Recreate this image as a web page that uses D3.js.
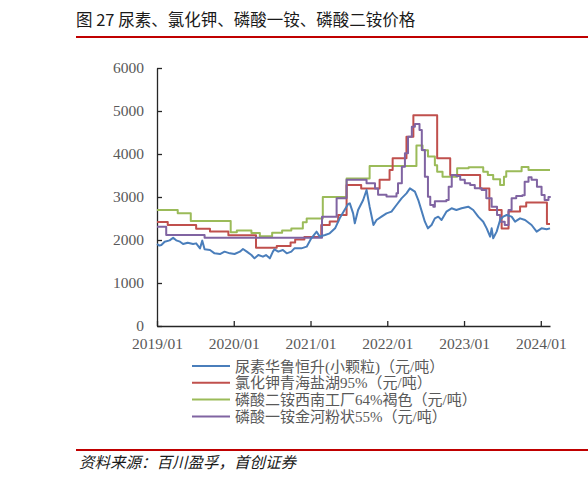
<!DOCTYPE html>
<html>
<head>
<meta charset="utf-8">
<script src="https://cdn.jsdelivr.net/npm/d3@7"></script>
<style>
  body { margin: 0; background: #fff; }
  svg text { font-family: "Liberation Serif", "Noto Sans CJK SC", serif; }
  .cjk { font-family: "Noto Sans CJK SC", sans-serif; }
  .axis path, .axis line { stroke: #262626; stroke-width: 1.3; }
  .axis text { fill: #595959; font-size: 15.5px; }
</style>
</head>
<body>
<div id="chart"></div>
<script>
// Years are decimal (2019.5 = mid 2019), values in 元/吨.
var yTicks = [0, 1000, 2000, 3000, 4000, 5000, 6000];
var xTicks = [2019, 2020, 2021, 2022, 2023, 2024];

var seriesNames = [
    '尿素华鲁恒升(小颗粒)（元/吨）',
    '氯化钾青海盐湖95%（元/吨）',
    '磷酸二铵西南工厂64%褐色（元/吨）',
    '磷酸一铵金河粉状55%（元/吨）'
];
var seriesColors = ['#4a7ebb', '#c0504d', '#9bbb59', '#8064a2'];

// urea, daily quote
var urea = [
    [2019.00, 1907], [2019.03, 1870], [2019.057, 1884], [2019.10, 1961], [2019.165, 1992],
    [2019.21, 2054], [2019.25, 1992], [2019.30, 1961], [2019.34, 1907], [2019.40, 1938],
    [2019.47, 1907], [2019.51, 1922], [2019.56, 1806], [2019.59, 1985], [2019.62, 1783],
    [2019.69, 1767], [2019.75, 1690], [2019.82, 1674], [2019.88, 1729], [2019.95, 1690],
    [2020.01, 1674], [2020.08, 1729], [2020.12, 1791], [2020.17, 1729], [2020.23, 1651],
    [2020.27, 1574], [2020.32, 1651], [2020.38, 1612], [2020.42, 1651], [2020.47, 1574],
    [2020.51, 1729], [2020.53, 1783], [2020.58, 1729], [2020.64, 1767], [2020.69, 1690],
    [2020.75, 1729], [2020.79, 1806], [2020.88, 1806], [2020.95, 1845], [2021.01, 2039],
    [2021.08, 2194], [2021.12, 2078], [2021.19, 2116], [2021.25, 2155], [2021.32, 2271],
    [2021.38, 2504], [2021.43, 2659], [2021.49, 2837], [2021.512, 2853], [2021.555, 2620],
    [2021.577, 2388], [2021.62, 2698], [2021.686, 2930], [2021.73, 3163], [2021.77, 2775],
    [2021.82, 2349], [2021.86, 2465], [2021.925, 2543], [2021.99, 2620], [2022.055, 2659],
    [2022.12, 2814], [2022.186, 2969], [2022.25, 3085], [2022.295, 3202], [2022.36, 3124],
    [2022.404, 2930], [2022.45, 2659], [2022.49, 2426], [2022.53, 2271], [2022.577, 2349],
    [2022.62, 2504], [2022.664, 2543], [2022.707, 2465], [2022.77, 2659], [2022.838, 2737],
    [2022.90, 2698], [2022.968, 2737], [2023.055, 2775], [2023.12, 2698], [2023.185, 2543],
    [2023.25, 2426], [2023.295, 2271], [2023.34, 2078], [2023.36, 2271], [2023.38, 2039],
    [2023.425, 2194], [2023.47, 2465], [2023.51, 2543], [2023.556, 2581], [2023.62, 2543],
    [2023.665, 2426], [2023.73, 2504], [2023.795, 2465], [2023.88, 2349], [2023.946, 2194],
    [2024.01, 2271], [2024.075, 2248], [2024.12, 2271]
];

// potassium chloride, price steps
var kcl = [
    [2019.00, 2420], [2019.14, 2350], [2019.51, 2260], [2019.69, 2200], [2019.93, 2110],
    [2020.29, 1820], [2020.56, 1860], [2020.74, 1940], [2020.80, 2010], [2020.92, 2070],
    [2021.14, 2350], [2021.25, 2430], [2021.36, 2580], [2021.47, 3280], [2021.66, 3200],
    [2021.90, 3400], [2022.03, 3630], [2022.07, 3900], [2022.25, 4400], [2022.34, 4900],
    [2022.65, 3900], [2022.82, 3510], [2023.21, 3200], [2023.33, 2700], [2023.49, 2270],
    [2023.58, 2660], [2023.73, 2780], [2023.81, 2870], [2024.08, 2370], [2024.12, 2370]
];

// diammonium phosphate, price steps
var dap = [
    [2019.00, 2700], [2019.27, 2620], [2019.44, 2440], [2019.96, 2180], [2020.04, 2220],
    [2020.23, 2160], [2020.34, 2090], [2020.50, 2170], [2020.63, 2220], [2020.75, 2270],
    [2020.90, 2410], [2020.95, 2500], [2021.16, 3000], [2021.47, 3430], [2021.77, 3720],
    [2022.38, 4200], [2022.46, 4090], [2022.53, 3940], [2022.62, 3740], [2022.65, 3590],
    [2022.72, 3470], [2022.91, 3670], [2023.06, 3690], [2023.25, 3590], [2023.31, 3510],
    [2023.38, 3410], [2023.47, 3280], [2023.52, 3470], [2023.55, 3600], [2023.75, 3700],
    [2023.84, 3630], [2024.12, 3630]
];

// monoammonium phosphate, weekly quote
var map = [
    [2019.00, 2310], [2019.12, 2115], [2019.62, 2055], [2021.15, 2540], [2021.34, 2970],
    [2021.47, 3400], [2021.73, 3320], [2021.84, 3200], [2021.88, 3050], [2021.99, 3010],
    [2022.12, 3085], [2022.14, 3318], [2022.19, 3705], [2022.23, 4015], [2022.27, 4403],
    [2022.32, 4636], [2022.36, 4700], [2022.42, 4558], [2022.45, 4093], [2022.49, 3473],
    [2022.53, 3008], [2022.56, 2814], [2022.60, 2775], [2022.62, 2900], [2022.77, 2930],
    [2022.80, 3240], [2022.84, 3512], [2022.90, 3490], [2022.95, 3400], [2023.01, 3318],
    [2023.08, 3280], [2023.14, 3201], [2023.23, 3160], [2023.29, 2969], [2023.36, 2775],
    [2023.43, 2581], [2023.47, 2426], [2023.53, 2349], [2023.58, 2698], [2023.62, 2969],
    [2023.68, 3024], [2023.76, 3040], [2023.79, 3357], [2023.84, 3457], [2023.88, 3400],
    [2023.95, 3240], [2024.01, 3046], [2024.05, 2930], [2024.10, 3000], [2024.12, 3020]
];

var W = 588, H = 484;
var margin = {top: 68, left: 157, right: 38, bottom: 158};
var width = W - margin.left - margin.right;
var height = H - margin.top - margin.bottom;

var svg = d3.select('#chart').append('svg')
    .attr('width', W)
    .attr('height', H);

// Title and red rules.
svg.append('text')
    .attr('class', 'cjk')
    .attr('x', 76).attr('y', 26)
    .attr('font-size', '16.5px')
    .attr('fill', '#1a1a1a')
    .text('图 27 尿素、氯化钾、磷酸一铵、磷酸二铵价格');

svg.append('line')
    .attr('x1', 76).attr('x2', W).attr('y1', 37).attr('y2', 37)
    .attr('stroke', '#c00000').attr('stroke-width', 2);

svg.append('line')
    .attr('x1', 76).attr('x2', W).attr('y1', 450).attr('y2', 450)
    .attr('stroke', '#c00000').attr('stroke-width', 2);

svg.append('text')
    .attr('class', 'cjk')
    .attr('x', 79).attr('y', 468)
    .attr('font-size', '15.5px')
    .attr('font-style', 'italic')
    .attr('fill', '#1a1a1a')
    .text('资料来源：百川盈孚，首创证券');

var g = svg.append('g')
    .attr('transform', 'translate(' + margin.left + ',' + margin.top + ')');

var x = d3.scaleLinear().domain([2019, 2024.12]).range([0, width]);
var y = d3.scaleLinear().domain([0, 6000]).range([height, 0]);

g.append('g')
    .attr('class', 'axis')
    .call(d3.axisLeft(y).tickValues(yTicks).tickSizeInner(-5).tickSizeOuter(0).tickPadding(13)
        .tickFormat(d3.format('d')));

g.append('g')
    .attr('class', 'axis')
    .attr('transform', 'translate(0,' + height + ')')
    .call(d3.axisBottom(x).tickValues(xTicks).tickSizeInner(-5).tickSizeOuter(0).tickPadding(12)
        .tickFormat(function(d) { return d + '/01'; }));

svg.selectAll('.axis').attr('font-family', null).attr('font-size', null);

var stepLine = d3.line()
    .x(function(d) { return x(d[0]); })
    .y(function(d) { return y(d[1]); })
    .curve(d3.curveStepAfter);

var plainLine = d3.line()
    .x(function(d) { return x(d[0]); })
    .y(function(d) { return y(d[1]); });

var drawOrder = [
    {data: dap, color: seriesColors[2], gen: stepLine},
    {data: kcl, color: seriesColors[1], gen: stepLine},
    {data: map, color: seriesColors[3], gen: stepLine},
    {data: urea, color: seriesColors[0], gen: plainLine}
];

drawOrder.forEach(function(s) {
    g.append('path')
        .datum(s.data)
        .attr('fill', 'none')
        .attr('stroke', s.color)
        .attr('stroke-width', 2)
        .attr('stroke-linejoin', 'round')
        .attr('d', s.gen);
});

// Legend.
var legend = svg.append('g').attr('transform', 'translate(192,366)');
var rows = legend.selectAll('g').data(seriesNames).enter().append('g')
    .attr('transform', function(d, i) { return 'translate(0,' + (i * 16.8) + ')'; });

rows.append('line')
    .attr('x1', 0).attr('x2', 38)
    .attr('stroke', function(d, i) { return seriesColors[i]; })
    .attr('stroke-width', 2);

rows.append('text')
    .attr('x', 43).attr('y', 5.5)
    .attr('font-size', '15px')
    .attr('fill', '#595959')
    .text(function(d) { return d; });
</script>
</body>
</html>
